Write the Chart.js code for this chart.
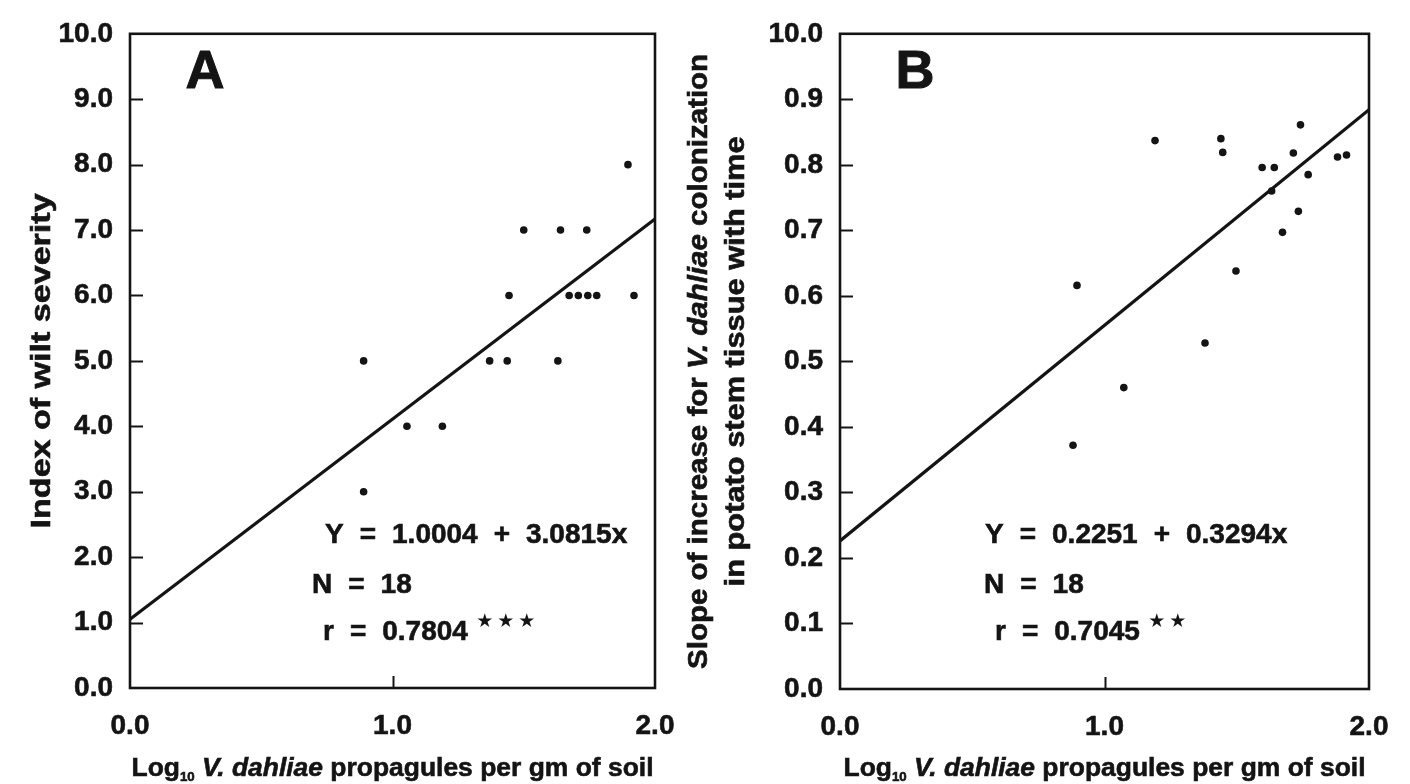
<!DOCTYPE html>
<html>
<head>
<meta charset="utf-8">
<script src="https://cdn.jsdelivr.net/npm/chart.js@4.4.1/dist/chart.umd.min.js"></script>
<style>
  html, body { margin: 0; padding: 0; background: #fff; }
  .panel { position: absolute; top: 0; height: 784px; }
  #panelA { left: 0; width: 705px; }
  #panelB { left: 660px; width: 750px; }
</style>
</head>
<body>
<div class="panel" id="panelA"><canvas id="chartA" width="705" height="784"></canvas></div>
<div class="panel" id="panelB"><canvas id="chartB" width="750" height="784"></canvas></div>
<script>
// Panel A: index of wilt severity vs log10 propagules
const wiltX = [0.89, 0.89, 1.055, 1.19, 1.37, 1.437, 1.444, 1.50, 1.64, 1.63, 1.74, 1.673, 1.708, 1.744, 1.778, 1.92, 1.897];
const wiltY = [5.0, 3.0, 4.0, 4.0, 5.0, 5.0, 6.0, 7.0, 7.0, 5.0, 7.0, 6.0, 6.0, 6.0, 6.0, 6.0, 8.0];
const wiltFitX = [0, 2];
const wiltFitY = [1.05, 7.17];
const wiltTicks = ['0.0', '1.0', '2.0', '3.0', '4.0', '5.0', '6.0', '7.0', '8.0', '9.0', '10.0'];

// Panel B: slope of colonization increase vs log10 propagules
const slopeX = [0.896, 0.881, 1.073, 1.191, 1.380, 1.497, 1.44, 1.447, 1.596, 1.642, 1.632, 1.673, 1.714, 1.741, 1.733, 1.770, 1.881, 1.915];
const slopeY = [0.616, 0.372, 0.460, 0.837, 0.528, 0.638, 0.840, 0.819, 0.796, 0.796, 0.760, 0.697, 0.818, 0.861, 0.729, 0.785, 0.812, 0.815];
const slopeFitX = [0, 2];
const slopeFitY = [0.226, 0.884];
const slopeTicks = ['0.0', '0.1', '0.2', '0.3', '0.4', '0.5', '0.6', '0.7', '0.8', '0.9', '10.0'];

const xTicks = ['0.0', '1.0', '2.0'];

const INK = '#141414';
const FAMILY = '"Liberation Sans", Arial, Helvetica, sans-serif';
const HEAVY = 0.6; // extra stroke so the print-style bold reads heavier

// draws mixed-font text centred on cx; optionally stretched to a given width
function drawRich(ctx, segs, cx, baseline, width) {
    let total = 0;
    for (const s of segs) { ctx.font = s.font; total += ctx.measureText(s.text).width; }
    ctx.save();
    ctx.translate(cx, baseline);
    if (width) ctx.scale(width / total, 1);
    ctx.lineWidth = HEAVY;
    let x = -total / 2;
    for (const s of segs) {
        ctx.font = s.font;
        ctx.fillText(s.text, x, s.dy || 0);
        ctx.strokeText(s.text, x, s.dy || 0);
        x += ctx.measureText(s.text).width;
    }
    ctx.restore();
}

function drawTokens(ctx, tokens, x, baseline, gap) {
    ctx.lineWidth = HEAVY;
    for (const t of tokens) {
        ctx.fillText(t, x, baseline);
        ctx.strokeText(t, x, baseline);
        x += ctx.measureText(t).width + gap;
    }
    return x - gap;
}

const xTitle = [
    { text: 'Log', font: `bold 26px ${FAMILY}` },
    { text: '10', font: `bold 13px ${FAMILY}`, dy: 5 },
    { text: ' V. dahliae', font: `italic bold 26px ${FAMILY}` },
    { text: ' propagules per gm of soil', font: `bold 26px ${FAMILY}` },
];

function decorPlugin(cfg) {
    return {
        id: 'decor',
        afterDraw(chart) {
            const { ctx, chartArea: a, scales } = chart;
            ctx.save();
            ctx.strokeStyle = INK;
            ctx.fillStyle = INK;

            // inward tick marks
            ctx.lineWidth = 2;
            scales.y.ticks.forEach((t, i) => {
                if (i === 0 || i === scales.y.ticks.length - 1) return;
                const py = Math.round(scales.y.getPixelForValue(t.value)) + 0.5;
                ctx.beginPath(); ctx.moveTo(a.left, py); ctx.lineTo(a.left + 13, py); ctx.stroke();
            });
            const px = Math.round(scales.x.getPixelForValue(1)) + 0.5;
            ctx.beginPath(); ctx.moveTo(px, a.bottom); ctx.lineTo(px, a.bottom - 12); ctx.stroke();

            // frame
            ctx.lineWidth = 2.6;
            ctx.strokeRect(a.left, a.top, a.right - a.left, a.bottom - a.top);

            // panel letter
            ctx.textAlign = 'center';
            ctx.textBaseline = 'alphabetic';
            ctx.font = `bold 54px ${FAMILY}`;
            ctx.lineWidth = 1;
            ctx.fillText(cfg.letter, a.left + 75, 88);
            ctx.strokeText(cfg.letter, a.left + 75, 88);

            // x axis title
            ctx.textAlign = 'left';
            drawRich(ctx, xTitle, (a.left + a.right) / 2, 776, 522);

            // y axis title(s)
            cfg.yTitle.forEach(line => {
                ctx.save();
                ctx.translate(line.x, (a.top + a.bottom) / 2);
                ctx.rotate(-Math.PI / 2);
                drawRich(ctx, line.segs, 0, 0, line.width);
                ctx.restore();
            });

            // regression statistics
            ctx.font = `bold 28px ${FAMILY}`;
            const gap = 16;
            drawTokens(ctx, cfg.eq, cfg.eqX, 543, gap);
            drawTokens(ctx, ['N', '=', '18'], cfg.nX, 593, gap);
            const end = drawTokens(ctx, ['r', '=', cfg.r], cfg.rX, 640, gap);
            ctx.font = `19px "DejaVu Sans", sans-serif`;
            ctx.textAlign = 'center';
            ctx.textBaseline = 'middle';
            for (let i = 0; i < cfg.stars; i++) ctx.fillText('\u2605', end + 17 + i * 21, 622);
            ctx.restore();
        },
    };
}

function makePanel(canvasId, xs, ys, fitX, fitY, yMax, yStep, yLabels, padRight, xHeight, cfg) {
    const tickFont = { family: FAMILY, size: 28, weight: 'bold' };
    return new Chart(document.getElementById(canvasId), {
        type: 'scatter',
        data: {
            datasets: [
                {
                    data: xs.map((v, i) => ({ x: v, y: ys[i] })),
                    pointRadius: 3.8,
                    pointBackgroundColor: INK,
                    pointBorderWidth: 0,
                },
                {
                    data: fitX.map((v, i) => ({ x: v, y: fitY[i] })),
                    showLine: true,
                    borderColor: INK,
                    borderWidth: 3.2,
                    pointRadius: 0,
                    fill: false,
                },
            ],
        },
        options: {
            responsive: false,
            animation: false,
            layout: { padding: { top: 23, right: padRight, left: 0, bottom: 0 } },
            plugins: { legend: { display: false }, tooltip: { enabled: false } },
            scales: {
                x: {
                    type: 'linear', min: 0, max: 2,
                    grid: { display: false, drawTicks: false },
                    border: { display: false },
                    ticks: { stepSize: 1, font: tickFont, color: INK, padding: 21, maxRotation: 0,
                             textStrokeColor: INK, textStrokeWidth: HEAVY,
                             callback: (v, i) => xTicks[i] },
                    afterFit: s => { s.height = xHeight; },
                },
                y: {
                    type: 'linear', min: 0, max: yMax,
                    grid: { display: false, drawTicks: false },
                    border: { display: false },
                    ticks: { stepSize: yStep, font: tickFont, color: INK, padding: 17,
                             textStrokeColor: INK, textStrokeWidth: HEAVY,
                             callback: (v, i) => yLabels[i] },
                    afterFit: s => { s.width = cfg.yWidth; },
                },
            },
        },
        plugins: [decorPlugin(cfg)],
    });
}

const titleFont = `bold 27px ${FAMILY}`;
const titleItalic = `italic bold 27px ${FAMILY}`;

makePanel('chartA', wiltX, wiltY, wiltFitX, wiltFitY, 10, 1, wiltTicks, 50, 96, {
    letter: 'A',
    yWidth: 130,
    yTitle: [{ x: 50, width: 335, segs: [{ text: 'Index of wilt severity', font: titleFont }] }],
    eq: ['Y', '=', '1.0004', '+', '3.0815x'], eqX: 325, nX: 312, rX: 323,
    r: '0.7804', stars: 3,
});

makePanel('chartB', slopeX, slopeY, slopeFitX, slopeFitY, 1, 0.1, slopeTicks, 41, 95, {
    letter: 'B',
    yWidth: 180,
    yTitle: [
        { x: 47, width: 615, segs: [
            { text: 'Slope of increase for ', font: titleFont },
            { text: 'V. dahliae', font: titleItalic },
            { text: ' colonization', font: titleFont },
        ] },
        { x: 84, width: 450, segs: [{ text: 'in potato stem tissue with time', font: titleFont }] },
    ],
    eq: ['Y', '=', '0.2251', '+', '0.3294x'], eqX: 325, nX: 324, rX: 335,
    r: '0.7045', stars: 2,
});
</script>
</body>
</html>
